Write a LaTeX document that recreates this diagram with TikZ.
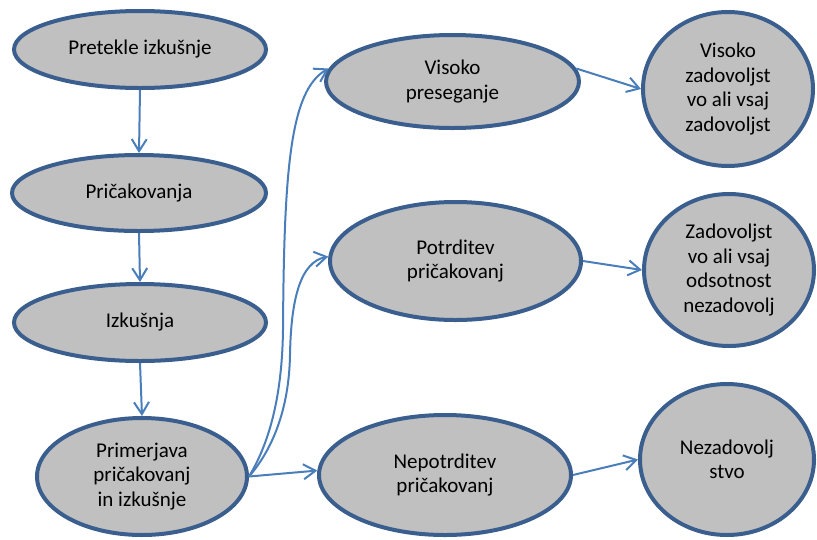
\documentclass[tikz,border=0pt]{standalone}
\usepackage{fontspec}
\setmainfont{Carlito}
\usetikzlibrary{shapes.geometric,arrows.meta}
\definecolor{rim}{HTML}{3A5F8E}
\definecolor{shade}{HTML}{C0C0C0}
\definecolor{link}{HTML}{4A7EBB}
\tikzset{
  bubble/.style={ellipse, draw=rim, fill=shade, line width=4pt, inner sep=0pt,
    align=center, font=\fontsize{21}{24.5}\selectfont},
  conn/.style={draw=link, line width=2pt,
    -{Straight Barb[length=12pt,width=15pt,line width=2pt]}},
}
\begin{document}
\begin{tikzpicture}[x=1pt,y=-1pt]
\useasboundingbox (0,0) rectangle (817,539);

% left column
\node[bubble, minimum width=252pt, minimum height=77pt] (past) at (140,49.5) {Pretekle izkušnje};
\node[bubble, minimum width=254pt, minimum height=76pt] (expect) at (139,193) {Pričakovanja};
\node[bubble, minimum width=252pt, minimum height=77pt] (exper) at (140,322.5) {Izkušnja};
\node[bubble, minimum width=210pt, minimum height=117pt] (cmp) at (142,476.5) {Primerjava\\pričakovanj\\in izkušnje};

% middle column
\node[bubble, minimum width=253pt, minimum height=93pt] (high) at (452.5,81.5) {Visoko\\preseganje};
\node[bubble, minimum width=251pt, minimum height=118pt] (conf) at (455.5,261) {Potrditev\\pričakovanj};
\node[bubble, minimum width=252pt, minimum height=120pt] (disc) at (445,475) {Nepotrditev\\pričakovanj};

% right column
\node[bubble, minimum width=170pt, minimum height=154pt] (sat1) at (728,89) {Visoko\\zadovoljst\\vo ali vsaj\\zadovoljst};
\node[bubble, minimum width=170pt, minimum height=152pt] (sat2) at (729,270) {Zadovoljst\\vo ali vsaj\\odsotnost\\nezadovolj};
\node[bubble, minimum width=174pt, minimum height=151pt] (sat3) at (727,459.5) {Nezadovolj\\stvo};

% chain on the left
\draw[conn] (past.south) -- (expect.north);
\draw[conn] (expect.south) -- (exper.north);
\draw[conn] (exper.south) -- (cmp.north);

% branches out of the comparison
\draw[conn] (cmp.east) .. controls (268,445) and (282,400) .. (283,330)
  .. controls (284,170) and (290,90) .. (high.174);
\draw[conn] (cmp.east) .. controls (272,450) and (289,410) .. (290,355)
  .. controls (291,300) and (300,262) .. (conf.178);
\draw[conn] (cmp.east) -- (disc.178);

% outcomes
\draw[conn] (high.6) -- (sat1.west);
\draw[conn] (conf.east) -- (sat2.west);
\draw[conn] (disc.east) -- (sat3.west);
\end{tikzpicture}
\end{document}
